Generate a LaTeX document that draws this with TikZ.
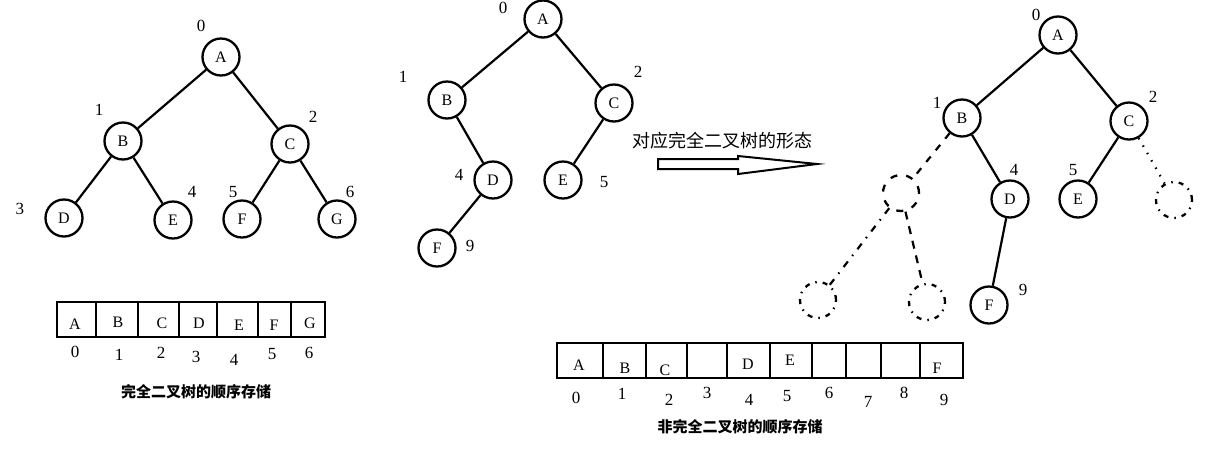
\documentclass[tikz,border=0pt]{standalone}
\usepackage{fontspec}
\setmainfont{Liberation Serif}
\newfontfamily\cjk{Noto Sans CJK SC}
\begin{document}
\begin{tikzpicture}[x=1pt,y=-1pt,
  tn/.style={circle,draw,line width=2.3pt,minimum size=37pt,inner sep=0pt,font=\fontsize{16}{18}\selectfont},
  dn/.style={circle,draw,line width=2.3pt,minimum size=36pt,inner sep=0pt,dash pattern=on 7pt off 9pt},
  dd/.style={circle,draw,line width=2.3pt,minimum size=36pt,inner sep=0pt,dash pattern=on 5pt off 6pt on 1.5pt off 6pt},
  lb/.style={font=\fontsize{17}{19}\selectfont,inner sep=0pt},
  cl/.style={font=\fontsize{16}{18}\selectfont,inner sep=0pt},
  ed/.style={line width=2.2pt},
  boxln/.style={line width=2.3pt},
  captxt/.style={font=\cjk\bfseries\fontsize{15}{17}\selectfont,inner sep=0pt}]
\useasboundingbox (0,0) rectangle (1211,459);
\fill[white] (0,0) rectangle (1211,459);

% ---------- left complete tree ----------
\node[tn] (la) at (221,57) {A};
\node[tn] (lb) at (123,141) {B};
\node[tn] (lc) at (290,144) {C};
\node[tn] (ld) at (64,218) {D};
\node[tn] (le) at (173,220) {E};
\node[tn] (lf) at (242,219) {F};
\node[tn] (lg) at (337,219) {G};
\draw[ed] (la) -- (lb); \draw[ed] (la) -- (lc);
\draw[ed] (lb) -- (ld); \draw[ed] (lb) -- (le);
\draw[ed] (lc) -- (lf); \draw[ed] (lc) -- (lg);
\node[lb] (l0) at (201,26) {0};
\node[lb] (l1) at (99,110) {1};
\node[lb] (l2) at (313,117) {2};
\node[lb] (l3) at (20,209) {3};
\node[lb] (l4) at (192,192) {4};
\node[lb] (l5) at (233,192) {5};
\node[lb] (l6) at (350,192) {6};

% left array
\draw[boxln] (57,302) rectangle (325,337);
\foreach \x in {96,138,179,217,258,291} \draw[boxln] (\x,302) -- (\x,337);
\node[cl] (ca) at (75,324) {A};
\node[cl] (cb) at (118,322) {B};
\node[cl] (cc) at (162,323) {C};
\node[cl] (cd) at (199,323) {D};
\node[cl] (ce) at (239,325) {E};
\node[cl] (cf) at (274,325) {F};
\node[cl] (cg) at (310,323) {G};
\node[lb] (i0) at (75,352) {0};
\node[lb] (i1) at (119,355) {1};
\node[lb] (i2) at (161,353) {2};
\node[lb] (i3) at (196,357) {3};
\node[lb] (i4) at (234,360) {4};
\node[lb] (i5) at (272,354) {5};
\node[lb] (i6) at (309,353) {6};
\node[captxt] (capl) at (196,392) {完全二叉树的顺序存储};

% ---------- middle tree ----------
\node[tn] (ma) at (543,19) {A};
\node[tn] (mb) at (447,100) {B};
\node[tn] (mc) at (614,103) {C};
\node[tn] (md) at (493,180) {D};
\node[tn] (me) at (563,180) {E};
\node[tn] (mf) at (437,248) {F};
\draw[ed] (ma) -- (mb); \draw[ed] (ma) -- (mc);
\draw[ed] (mb) -- (md); \draw[ed] (mc) -- (me);
\draw[ed] (md) -- (mf);
\node[lb] (m0) at (503,8) {0};
\node[lb] (m1) at (403,77) {1};
\node[lb] (m2) at (638,72) {2};
\node[lb] (m4) at (459,175) {4};
\node[lb] (m5) at (604,182) {5};
\node[lb] (m9) at (470,246) {9};

% arrow and caption
\node[font=\cjk\fontsize{18}{20}\selectfont,inner sep=0pt] (arrcap) at (722,141) {对应完全二叉树的形态};
\draw[line width=2pt,fill=white,line join=miter]
  (658,159) -- (738,159) -- (738,156) -- (817,164) -- (738,174) -- (738,169) -- (658,169) -- cycle;

% ---------- right tree ----------
\node[tn] (ra) at (1058,35) {A};
\node[tn] (rb) at (962,118) {B};
\node[tn] (rc) at (1129,121) {C};
\node[tn] (rd) at (1010,199) {D};
\node[tn] (re) at (1078,199) {E};
\node[tn] (rf) at (989,305) {F};
\node[dn] (rx) at (901,193) {};
\node[dd] (ry) at (1174,200) {};
\node[dd] (rxl) at (818,300) {};
\node[dd] (rxr) at (927,302) {};
\draw[ed] (ra) -- (rb); \draw[ed] (ra) -- (rc);
\draw[ed] (rb) -- (rd); \draw[ed] (rc) -- (re);
\draw[ed] (rd) -- (rf);
\draw[ed,dash pattern=on 7pt off 8pt] (rb) -- (rx);
\draw[ed,dash pattern=on 1.5pt off 7pt] (rc) -- (ry);
\draw[ed,dash pattern=on 7pt off 7pt on 1.5pt off 7pt] (rx) -- (rxl);
\draw[ed,dash pattern=on 8pt off 7pt] (rx) -- (rxr);
\node[lb] (r0) at (1036,15) {0};
\node[lb] (r1) at (937,103) {1};
\node[lb] (r2) at (1153,97) {2};
\node[lb] (r4) at (1014,170) {4};
\node[lb] (r5) at (1073,170) {5};
\node[lb] (r9) at (1023,290) {9};

% bottom array
\draw[boxln] (557,343) rectangle (963,378);
\foreach \x in {603,646,687,727,770,812,846,881,920} \draw[boxln] (\x,343) -- (\x,378);
\node[cl] (ba) at (579,365) {A};
\node[cl] (bb) at (625,368) {B};
\node[cl] (bc) at (665,370) {C};
\node[cl] (bd) at (748,364) {D};
\node[cl] (be) at (790,360) {E};
\node[cl] (bf) at (937,368) {F};
\node[lb] (j0) at (576,398) {0};
\node[lb] (j1) at (622,394) {1};
\node[lb] (j2) at (669,400) {2};
\node[lb] (j3) at (707,393) {3};
\node[lb] (j4) at (749,400) {4};
\node[lb] (j5) at (787,396) {5};
\node[lb] (j6) at (829,393) {6};
\node[lb] (j7) at (868,402) {7};
\node[lb] (j8) at (904,393) {8};
\node[lb] (j9) at (944,400) {9};
\node[captxt] (capr) at (740,427) {非完全二叉树的顺序存储};
\end{tikzpicture}
\end{document}
